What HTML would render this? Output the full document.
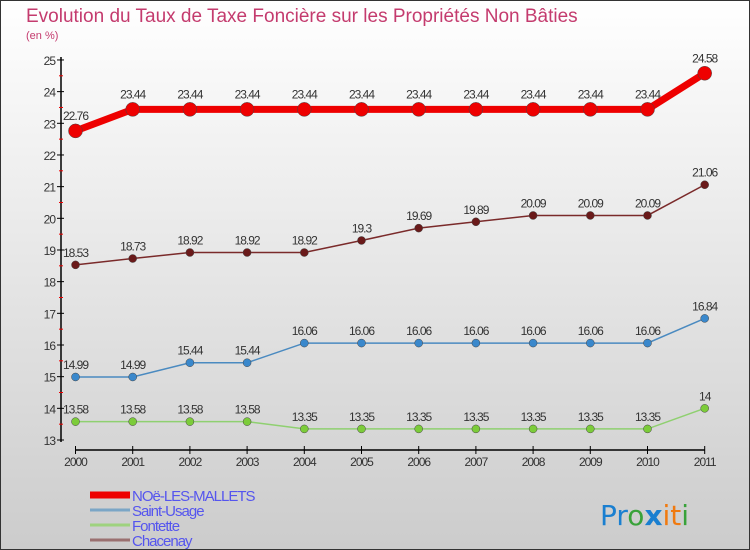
<!DOCTYPE html>
<html><head><meta charset="utf-8"><style>
body{margin:0;width:750px;height:550px;overflow:hidden;font-family:"Liberation Sans",sans-serif}
#c{position:absolute;left:0;top:0;width:748px;height:548px;border:1px solid #333;background:linear-gradient(#ffffff,#cccccc)}
</style></head><body>
<div id="c">
<svg id="s" width="750" height="550" style="position:absolute;left:-1px;top:-1px">
<text x="26" y="22" font-size="19" fill="#c43b6e">Evolution du Taux de Taxe Foncière sur les Propriétés Non Bâties</text>
<text x="26" y="39" font-size="11" fill="#c43b6e">(en %)</text>
<g id="g"></g>
<text x="600" y="525" font-size="28" font-family="DejaVu Sans"><tspan fill="#1a7fd0">Pr</tspan><tspan fill="#39a23a">o</tspan><tspan fill="#1a7fd0" font-weight="bold">x</tspan><tspan fill="#f07a10">it</tspan><tspan fill="#39a23a">i</tspan></text>
</svg></div>
<script>
const years=[2000,2001,2002,2003,2004,2005,2006,2007,2008,2009,2010,2011];
const yTicks=[13,14,15,16,17,18,19,20,21,22,23,24,25];
const noe=[22.76,23.44,23.44,23.44,23.44,23.44,23.44,23.44,23.44,23.44,23.44,24.58];
const saint=[14.99,14.99,15.44,15.44,16.06,16.06,16.06,16.06,16.06,16.06,16.06,16.84];
const font=[13.58,13.58,13.58,13.58,13.35,13.35,13.35,13.35,13.35,13.35,13.35,14];
const chac=[18.53,18.73,18.92,18.92,18.92,19.3,19.69,19.89,20.09,20.09,20.09,21.06];
const names=["NOë-LES-MALLETS","Saint-Usage","Fontette","Chacenay"];
const NS="http://www.w3.org/2000/svg",g=document.getElementById('g');
const X=i=>75.5+i*57.2, Y=v=>440-(v-13)*31.67;
function el(t,a){const e=document.createElementNS(NS,t);for(const k in a)e.setAttribute(k,a[k]);g.appendChild(e);return e;}
let ax=el('line',{x1:61,y1:57,x2:61,y2:442,stroke:'#000','stroke-width':1.5});


yTicks.forEach(v=>{el('line',{x1:57,x2:64,y1:Y(v),y2:Y(v),stroke:'#000'});
 if(v<25)el('line',{x1:59,x2:63,y1:Y(v+0.5),y2:Y(v+0.5),stroke:'#e00'});
 const t=el('text',{x:55,y:Y(v)+5,'font-size':12,fill:'#333','text-anchor':'end','letter-spacing':'-1'});t.textContent=v;
 
 });
let xa=el('line',{x1:X(0),y1:450,x2:X(11),y2:450,stroke:'#000','stroke-width':1.5});


years.forEach((y,i)=>{el('line',{x1:X(i),x2:X(i),y1:446,y2:454,stroke:'#000'});
 const t=el('text',{x:X(i),y:466,'font-size':12,fill:'#333','text-anchor':'middle','letter-spacing':'-1'});t.textContent=y;
 
 });
const series=[[chac,'#7a2a2a','#6a1a1a',1.5,4,'chacenay'],[saint,'#4a8ac0','#3a88cc',1.5,4,'saint-usage'],[font,'#8fd070','#7ccc3a',1.5,4,'fontette'],[noe,'#ee0000','#ee0000',7,7,'noe-les-mallets']];
series.forEach(([d,lc,pc,w,r,n])=>{
 const l=el('polyline',{points:d.map((v,i)=>X(i)+','+Y(v)).join(' '),fill:'none',stroke:lc,'stroke-width':w});
 
 
 d.forEach((v,i)=>{const c=el('circle',{cx:X(i),cy:Y(v),r:r,fill:pc,stroke:'#444','stroke-width':0.5});
  
  
  const t=el('text',{x:X(i),y:Y(v)-(w>5?11:8),'font-size':12,fill:'#333','text-anchor':'middle','letter-spacing':'-1'});
  t.textContent=String(v).replace('.','.');
  
  });});
const lc=['#ee0000','#7ba6c6','#9ed27e','#9a7070'],lw=[7,3,3,3];
names.forEach((n,i)=>{const y=494+i*15;
 const l=el('line',{x1:90,x2:130,y1:y+1,y2:y+1,stroke:lc[i],'stroke-width':lw[i]});
 
 
 const t=el('text',{x:132,y:y+7,'font-size':15,fill:'#5555ee','letter-spacing':'-1'});t.textContent=n;
 
 });
</script>
</body></html>
